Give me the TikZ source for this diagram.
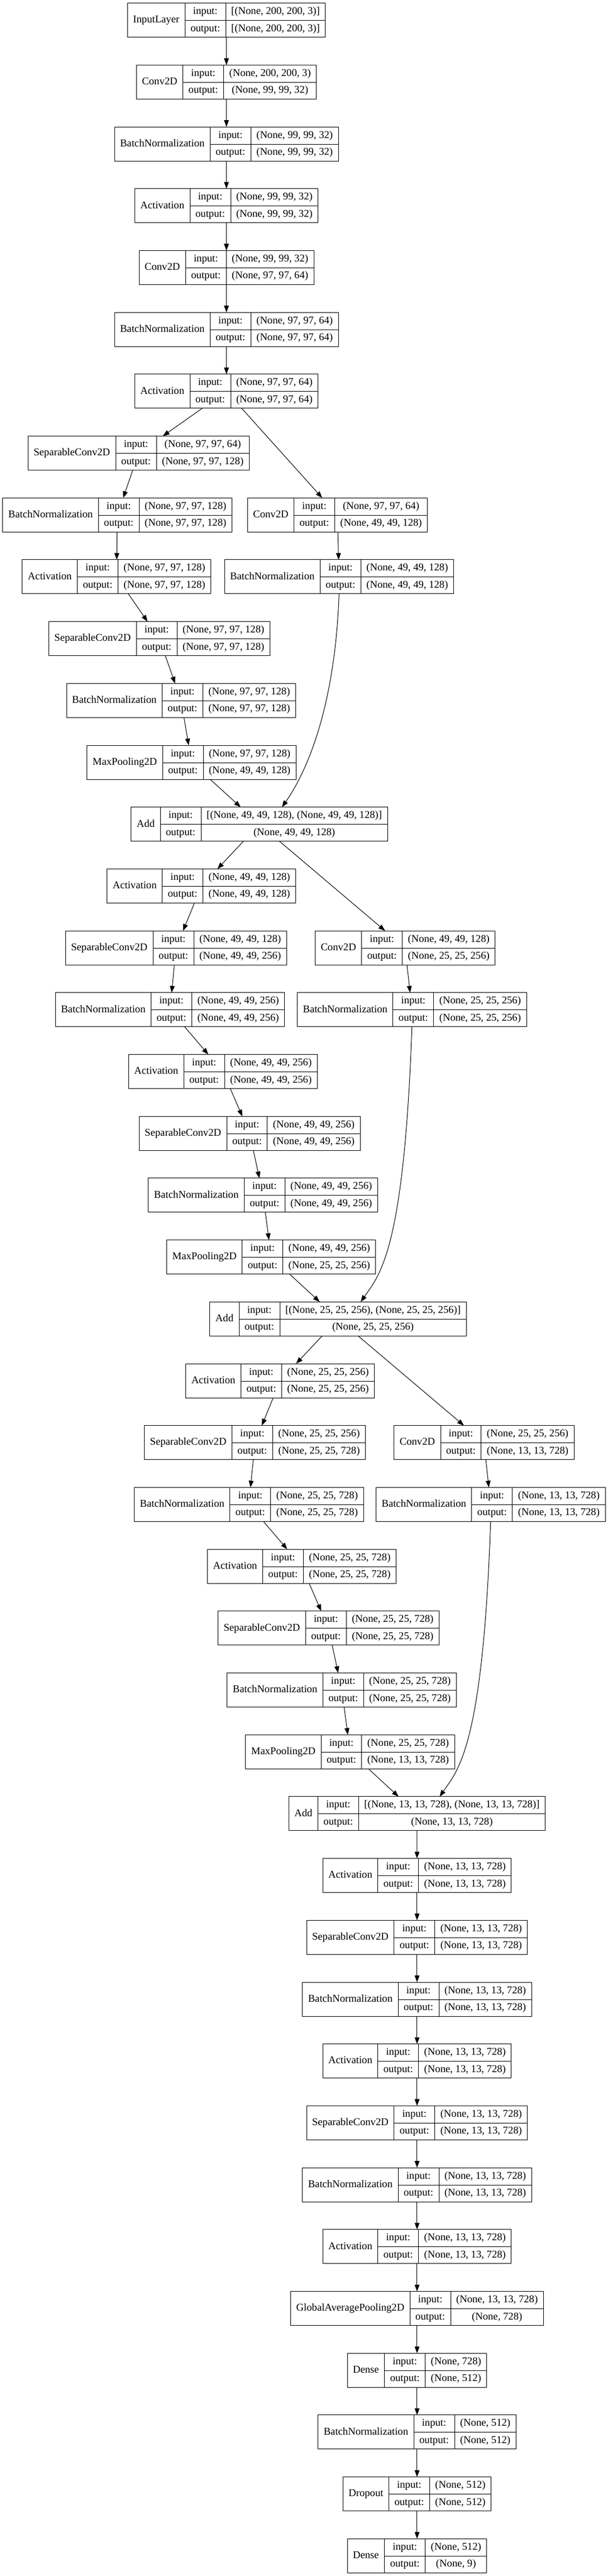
\documentclass[tikz,border=0pt]{standalone}
\usepackage{fontspec}
\setmainfont{Liberation Serif}
\usetikzlibrary{arrows.meta}
\setlength{\tabcolsep}{7.5pt}
\setlength{\arrayrulewidth}{0.75pt}
\newcommand{\layerstrut}{\rule[-7.9pt]{0pt}{22.875pt}}
\newcommand{\layertab}[3]{%
  \begin{tabular}{c|c|c}
    \raisebox{-11.44pt}[0pt][0pt]{#1} & \layerstrut input: & #2\\ \cline{2-3}
    & \layerstrut output: & #3
  \end{tabular}}
\tikzset{
  rec/.style={draw=black, line width=0.75pt, inner sep=0pt, font=\fontsize{14pt}{16.8pt}\selectfont},
  flow/.style={draw=black, line width=0.75pt, -{Triangle[length=9pt,width=6.5pt]}}
}

\begin{document}
\begin{tikzpicture}[x=0.75pt, y=-83.025pt, inner sep=0pt, outer sep=0pt]
  \path[fill=white] (0,-0.327) rectangle (1089,41.327);
  \useasboundingbox (0,-0.327) rectangle (1089,41.327);

  \node[rec] (inp) at (405.6,0) {\layertab{InputLayer}{[(None, 200, 200, 3)]}{[(None, 200, 200, 3)]}};
  \node[rec] (conv1) at (405.6,1) {\layertab{Conv2D}{(None, 200, 200, 3)}{(None, 99, 99, 32)}};
  \node[rec] (bn1) at (405.6,2) {\layertab{BatchNormalization}{(None, 99, 99, 32)}{(None, 99, 99, 32)}};
  \node[rec] (act1) at (405.6,3) {\layertab{Activation}{(None, 99, 99, 32)}{(None, 99, 99, 32)}};
  \node[rec] (conv2) at (405.6,4) {\layertab{Conv2D}{(None, 99, 99, 32)}{(None, 97, 97, 64)}};
  \node[rec] (bn2) at (405.6,5) {\layertab{BatchNormalization}{(None, 97, 97, 64)}{(None, 97, 97, 64)}};
  \node[rec] (act2) at (405.6,6) {\layertab{Activation}{(None, 97, 97, 64)}{(None, 97, 97, 64)}};

  \node[rec] (sep1) at (248.3,7) {\layertab{SeparableConv2D}{(None, 97, 97, 64)}{(None, 97, 97, 128)}};
  \node[rec] (bn3) at (210.1,8) {\layertab{BatchNormalization}{(None, 97, 97, 128)}{(None, 97, 97, 128)}};
  \node[rec] (convb1) at (604.5,8) {\layertab{Conv2D}{(None, 97, 97, 64)}{(None, 49, 49, 128)}};
  \node[rec] (act3) at (208.7,9) {\layertab{Activation}{(None, 97, 97, 128)}{(None, 97, 97, 128)}};
  \node[rec] (bnb1) at (607.3,9) {\layertab{BatchNormalization}{(None, 49, 49, 128)}{(None, 49, 49, 128)}};
  \node[rec] (sep2) at (285.4,10) {\layertab{SeparableConv2D}{(None, 97, 97, 128)}{(None, 97, 97, 128)}};
  \node[rec] (bn4) at (324.3,11) {\layertab{BatchNormalization}{(None, 97, 97, 128)}{(None, 97, 97, 128)}};
  \node[rec] (pool1) at (343.1,12) {\layertab{MaxPooling2D}{(None, 97, 97, 128)}{(None, 49, 49, 128)}};
  \node[rec] (add1) at (464.6,13) {\layertab{Add}{[(None, 49, 49, 128), (None, 49, 49, 128)]}{(None, 49, 49, 128)}};

  \node[rec] (act4) at (360.8,14) {\layertab{Activation}{(None, 49, 49, 128)}{(None, 49, 49, 128)}};
  \node[rec] (sep3) at (315.3,15) {\layertab{SeparableConv2D}{(None, 49, 49, 128)}{(None, 49, 49, 256)}};
  \node[rec] (convb2) at (725.7,15) {\layertab{Conv2D}{(None, 49, 49, 128)}{(None, 25, 25, 256)}};
  \node[rec] (bn5) at (304.5,16) {\layertab{BatchNormalization}{(None, 49, 49, 256)}{(None, 49, 49, 256)}};
  \node[rec] (bnb2) at (737.8,16) {\layertab{BatchNormalization}{(None, 25, 25, 256)}{(None, 25, 25, 256)}};
  \node[rec] (act5) at (399.3,17) {\layertab{Activation}{(None, 49, 49, 256)}{(None, 49, 49, 256)}};
  \node[rec] (sep4) at (447.2,18) {\layertab{SeparableConv2D}{(None, 49, 49, 256)}{(None, 49, 49, 256)}};
  \node[rec] (bn6) at (471.2,19) {\layertab{BatchNormalization}{(None, 49, 49, 256)}{(None, 49, 49, 256)}};
  \node[rec] (pool2) at (485.8,20) {\layertab{MaxPooling2D}{(None, 49, 49, 256)}{(None, 25, 25, 256)}};
  \node[rec] (add2) at (605.6,21) {\layertab{Add}{[(None, 25, 25, 256), (None, 25, 25, 256)]}{(None, 25, 25, 256)}};

  \node[rec] (act6) at (501.7,22) {\layertab{Activation}{(None, 25, 25, 256)}{(None, 25, 25, 256)}};
  \node[rec] (sep5) at (456.6,23) {\layertab{SeparableConv2D}{(None, 25, 25, 256)}{(None, 25, 25, 728)}};
  \node[rec] (convb3) at (867.0,23) {\layertab{Conv2D}{(None, 25, 25, 256)}{(None, 13, 13, 728)}};
  \node[rec] (bn7) at (445.8,24) {\layertab{BatchNormalization}{(None, 25, 25, 728)}{(None, 25, 25, 728)}};
  \node[rec] (bnb3) at (878.8,24) {\layertab{BatchNormalization}{(None, 13, 13, 728)}{(None, 13, 13, 728)}};
  \node[rec] (act7) at (540.6,25) {\layertab{Activation}{(None, 25, 25, 728)}{(None, 25, 25, 728)}};
  \node[rec] (sep6) at (588.5,26) {\layertab{SeparableConv2D}{(None, 25, 25, 728)}{(None, 25, 25, 728)}};
  \node[rec] (bn8) at (612.2,27) {\layertab{BatchNormalization}{(None, 25, 25, 728)}{(None, 25, 25, 728)}};
  \node[rec] (pool3) at (627.1,28) {\layertab{MaxPooling2D}{(None, 25, 25, 728)}{(None, 13, 13, 728)}};
  \node[rec] (add3) at (746.9,29) {\layertab{Add}{[(None, 13, 13, 728), (None, 13, 13, 728)]}{(None, 13, 13, 728)}};

  \node[rec] (act8) at (747,30) {\layertab{Activation}{(None, 13, 13, 728)}{(None, 13, 13, 728)}};
  \node[rec] (sep7) at (747,31) {\layertab{SeparableConv2D}{(None, 13, 13, 728)}{(None, 13, 13, 728)}};
  \node[rec] (bn9) at (747,32) {\layertab{BatchNormalization}{(None, 13, 13, 728)}{(None, 13, 13, 728)}};
  \node[rec] (act9) at (747,33) {\layertab{Activation}{(None, 13, 13, 728)}{(None, 13, 13, 728)}};
  \node[rec] (sep8) at (747,34) {\layertab{SeparableConv2D}{(None, 13, 13, 728)}{(None, 13, 13, 728)}};
  \node[rec] (bn10) at (747,35) {\layertab{BatchNormalization}{(None, 13, 13, 728)}{(None, 13, 13, 728)}};
  \node[rec] (act10) at (747,36) {\layertab{Activation}{(None, 13, 13, 728)}{(None, 13, 13, 728)}};
  \node[rec] (gap) at (747,37) {\layertab{GlobalAveragePooling2D}{(None, 13, 13, 728)}{(None, 728)}};
  \node[rec] (dense1) at (747,38) {\layertab{Dense}{(None, 728)}{(None, 512)}};
  \node[rec] (bn11) at (747,39) {\layertab{BatchNormalization}{(None, 512)}{(None, 512)}};
  \node[rec] (drop) at (747,40) {\layertab{Dropout}{(None, 512)}{(None, 512)}};
  \node[rec] (dense2) at (747,41) {\layertab{Dense}{(None, 512)}{(None, 9)}};

  \foreach \a/\b in {inp/conv1, conv1/bn1, bn1/act1, act1/conv2, conv2/bn2, bn2/act2,
      act2/sep1, act2/convb1, sep1/bn3, bn3/act3, act3/sep2, sep2/bn4, bn4/pool1, pool1/add1, convb1/bnb1,
      add1/act4, add1/convb2, act4/sep3, sep3/bn5, bn5/act5, act5/sep4, sep4/bn6, bn6/pool2, pool2/add2, convb2/bnb2,
      add2/act6, add2/convb3, act6/sep5, sep5/bn7, bn7/act7, act7/sep6, sep6/bn8, bn8/pool3, pool3/add3, convb3/bnb3,
      add3/act8, act8/sep7, sep7/bn9, bn9/act9, act9/sep8, sep8/bn10, bn10/act10, act10/gap,
      gap/dense1, dense1/bn11, bn11/drop, drop/dense2}
    \path[flow] (\a) -- (\b);

  \path[flow] (bnb1.south) .. controls +(-92:150pt) and +(55:60pt) .. (add1.37);
  \path[flow] (bnb2.south) .. controls +(-92:300pt) and +(55:45pt) .. (add2.37);
  \path[flow] (bnb3.south) .. controls +(-92:300pt) and +(55:45pt) .. (add3.37);

\end{tikzpicture}
\end{document}
